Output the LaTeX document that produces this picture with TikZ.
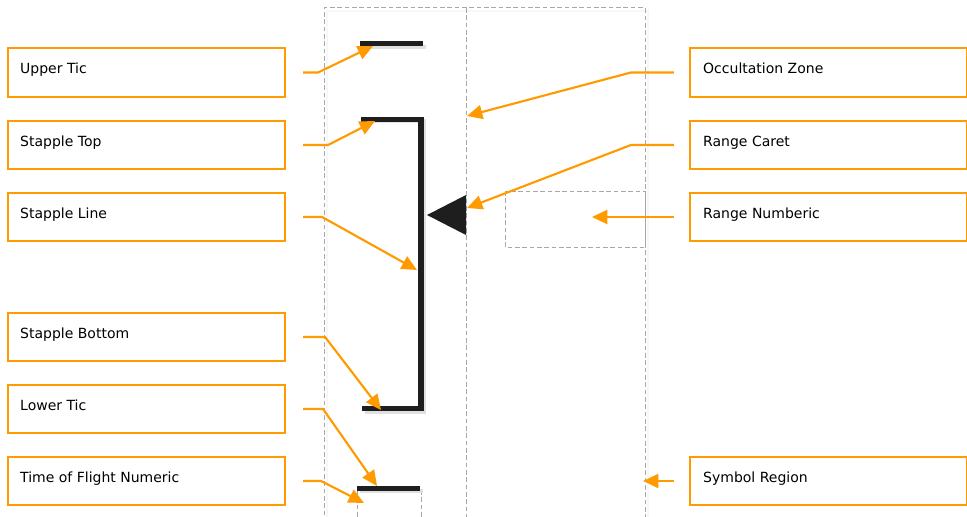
\documentclass[tikz,border=0pt]{standalone}
\usepackage{fontspec}
\setmainfont{DejaVu Sans}
\usetikzlibrary{arrows.meta,calc}
\definecolor{orng}{HTML}{FF9A00}
\definecolor{symb}{HTML}{1E1E1E}
\definecolor{dgray}{HTML}{A8A8A8}
\tikzset{
  box/.style={draw=orng,line width=1.6pt,minimum width=207.75pt,minimum height=36.5pt,inner sep=0pt},
  lbl/.style={anchor=base west,inner sep=0pt,font=\fontsize{10.5}{12}\selectfont},
  conn/.style={draw=orng,line width=1.6pt,-{Triangle[length=11.5pt,width=10.5pt]}},
  dashline/.style={draw=dgray,line width=0.75pt,dash pattern=on 3.5pt off 2pt},
  shade/.style={draw=black!12,line width=3pt},
  sym/.style={draw=symb,line width=4pt},
}
\begin{document}
\begin{tikzpicture}[x=0.75pt,y=-0.75pt]
\useasboundingbox (0,0) rectangle (967,517);
% dashed regions
\draw[draw=black!3,line width=2pt] (327,530) -- (327,11) -- (648,11) -- (648,530);
\draw[dashline] (324,530) -- (324,8) -- (645,8) -- (645,530);
\draw[dashline] (466,8) -- (466,530);
\draw[dashline] (505,191) rectangle (645,247);
\draw[dashline] (357,490) -- (357,530);
\draw[dashline] (421,490) -- (421,530);
% symbol shadows
\draw[shade] (363,47) -- (426,47);
\draw[shade] (364,121) -- (424,121) -- (424,412) -- (365,412);
\draw[shade] (360,491) -- (423,491);
% symbols
\draw[sym] (360,43.5) -- (423,43.5);
\draw[sym,line join=miter] (361,119.5) -- (421,119.5) -- (421,408.5) -- (362,408.5);
\fill[symb] (427,215) -- (466,195) -- (466,235) -- cycle;
\draw[sym] (357,488.5) -- (420,488.5);
% target coordinates
\coordinate (tUT) at (373,46);
\coordinate (tST) at (375,121);
\coordinate (tSL) at (417,270);
\coordinate (tSB) at (381,410);
\coordinate (tLT) at (377,486);
\coordinate (tTF) at (364,503);
\coordinate (tOZ) at (467,116);
\coordinate (tRC) at (467,208);
\coordinate (tRN) at (592,217);
\coordinate (tSR) at (643,481);
% left boxes
\node[box] (ut) at (146.5,72.5) {};
\node[box] (st) at (146.5,145) {};
\node[box] (sl) at (146.5,217) {};
\node[box] (sb) at (146.5,337) {};
\node[box] (lt) at (146.5,409) {};
\node[box] (tf) at (146.5,481) {};
% right boxes
\node[box] (oz) at (828.5,72.5) {};
\node[box] (rc) at (828.5,145) {};
\node[box] (rn) at (828.5,217) {};
\node[box] (sr) at (828.5,481) {};
% labels
\node[lbl] at ($(ut.north west)+(13,26.5)$) {Upper Tic};
\node[lbl] at ($(st.north west)+(13,26.5)$) {Stapple Top};
\node[lbl] at ($(sl.north west)+(13,26.5)$) {Stapple Line};
\node[lbl] at ($(sb.north west)+(13,26.5)$) {Stapple Bottom};
\node[lbl] at ($(lt.north west)+(13,26.5)$) {Lower Tic};
\node[lbl] at ($(tf.north west)+(13,26.5)$) {Time of Flight Numeric};
\node[lbl] at ($(oz.north west)+(14,26.5)$) {Occultation Zone};
\node[lbl] at ($(rc.north west)+(14,26.5)$) {Range Caret};
\node[lbl] at ($(rn.north west)+(14,26.5)$) {Range Numberic};
\node[lbl] at ($(sr.north west)+(14,26.5)$) {Symbol Region};
% connectors
\draw[conn] ($(ut.east)+(17,0)$) -- ++(15,0) -- (tUT);
\draw[conn] ($(st.east)+(17,0)$) -- ++(25,0) -- (tST);
\draw[conn] ($(sl.east)+(17,0)$) -- ++(19,0) -- (tSL);
\draw[conn] ($(sb.east)+(17,0)$) -- ++(22,0) -- (tSB);
\draw[conn] ($(lt.east)+(17,0)$) -- ++(20,0) -- (tLT);
\draw[conn] ($(tf.east)+(17,0)$) -- ++(18,0) -- (tTF);
\draw[conn] ($(oz.west)+(-15,0)$) -- ++(-43,0) -- (tOZ);
\draw[conn] ($(rc.west)+(-15,0)$) -- ++(-43,0) -- (tRC);
\draw[conn] ($(rn.west)+(-15,0)$) -- (tRN);
\draw[conn] ($(sr.west)+(-15,0)$) -- (tSR);
\end{tikzpicture}
\end{document}
